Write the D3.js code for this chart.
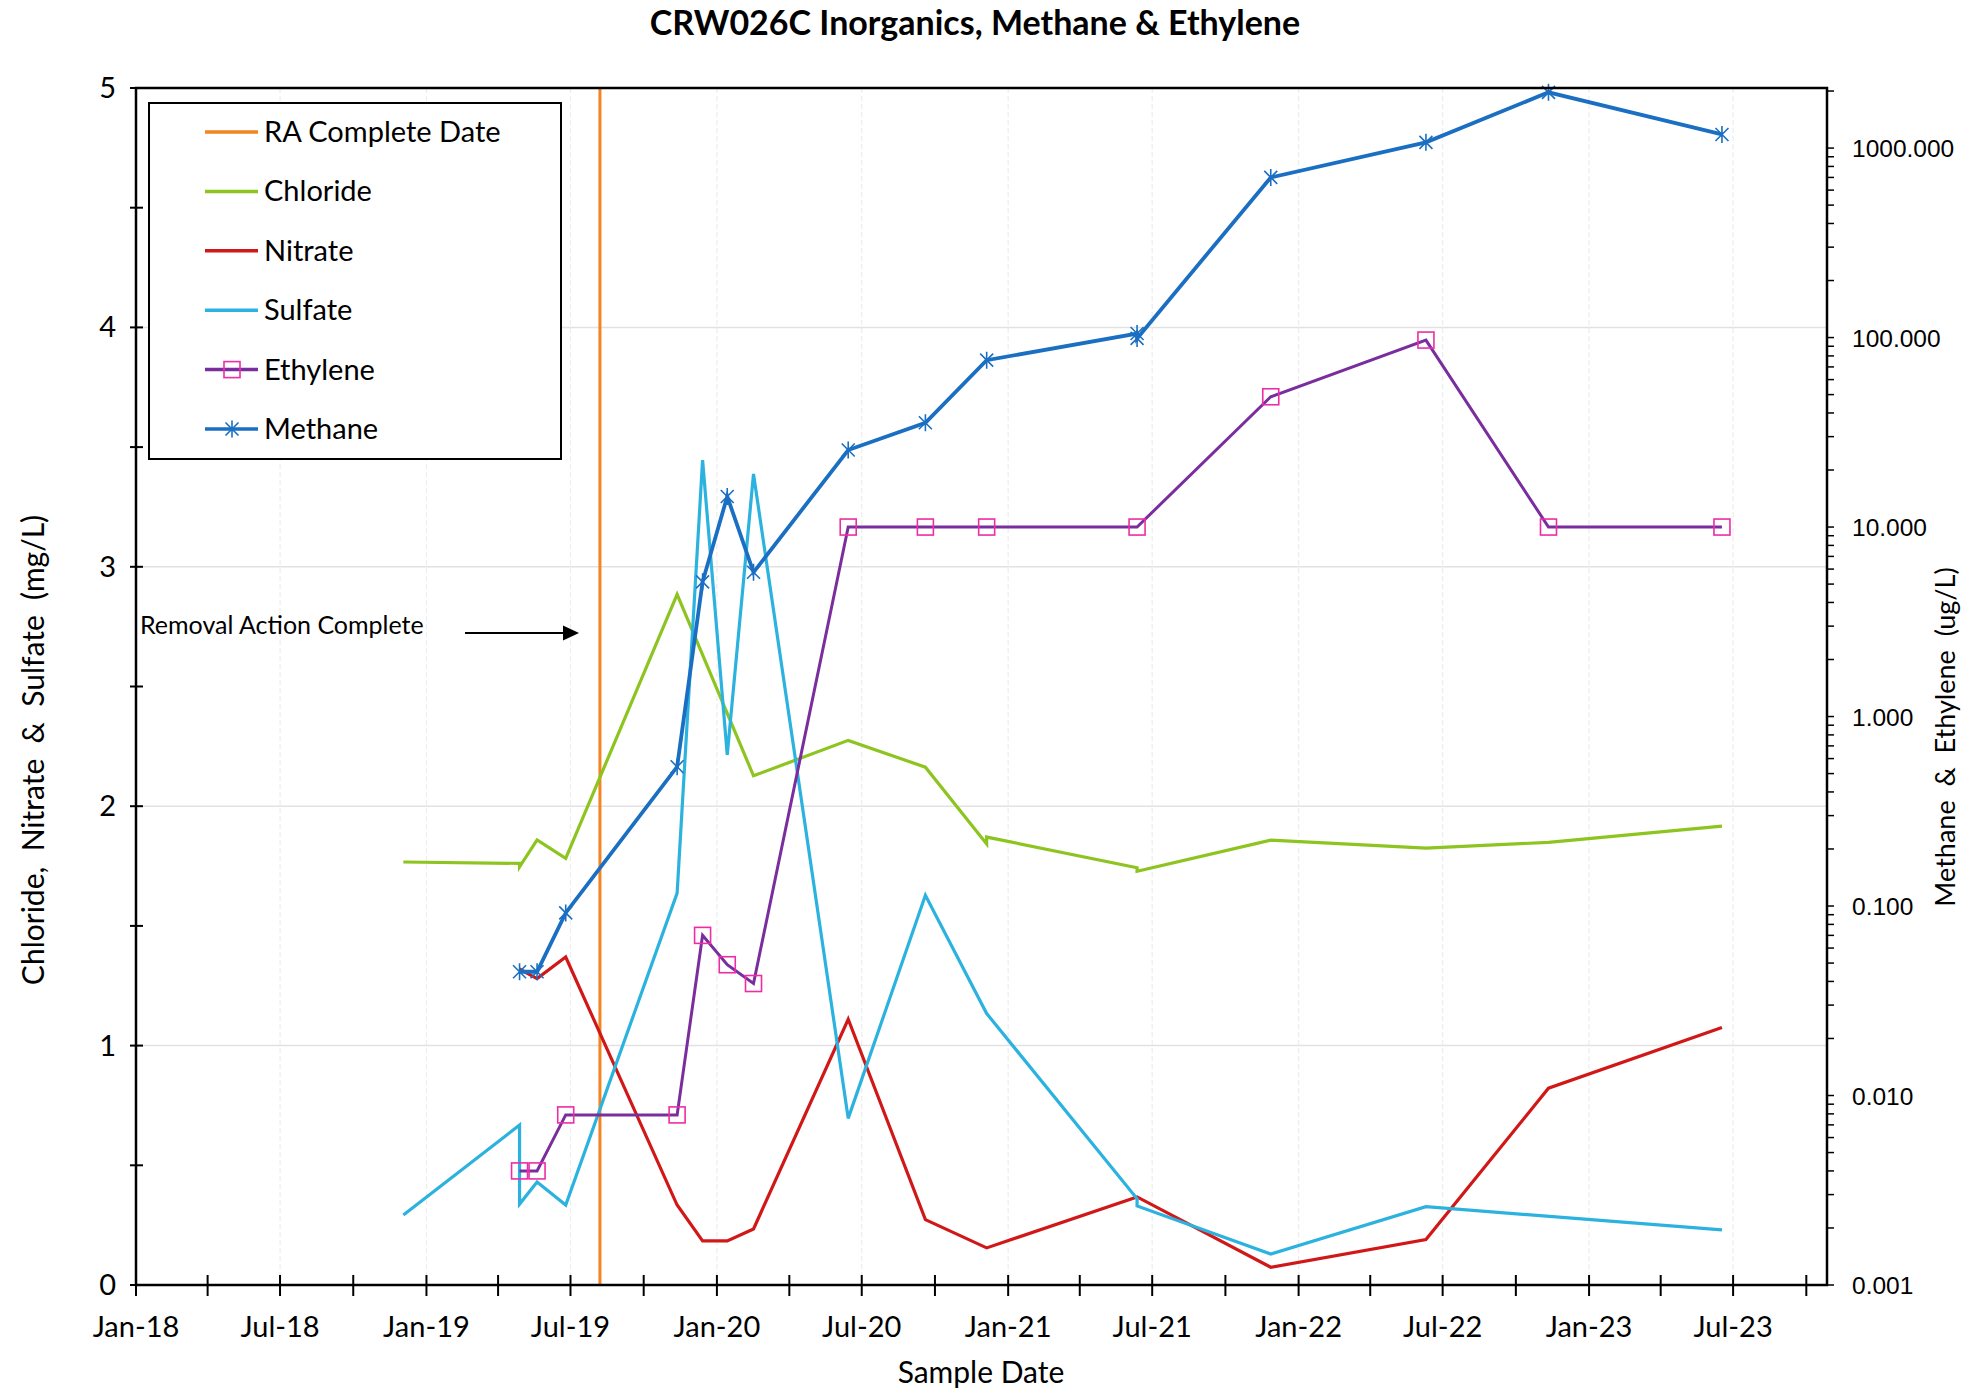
<!DOCTYPE html>
<html>
<head>
<meta charset="utf-8">
<script src="https://cdn.jsdelivr.net/npm/d3@7"></script>
<style>
  body { margin: 0; background: #fff; }
  svg { display: block; font-family: Lato, "Open Sans", sans-serif; }
</style>
</head>
<body>
<svg width="1967" height="1393"></svg>
<script>
// sample results: [date, value]
const chloride = [
  ["2018-12-03", 1.767], ["2019-04-28", 1.761], ["2019-04-28", 1.747], ["2019-05-20", 1.859],
  ["2019-06-25", 1.782], ["2019-11-12", 2.885], ["2020-02-16", 2.127], ["2020-06-14", 2.275],
  ["2020-09-19", 2.163], ["2020-12-05", 1.842], ["2020-12-05", 1.871], ["2021-06-12", 1.743],
  ["2021-06-12", 1.728], ["2021-11-27", 1.858], ["2022-06-10", 1.825], ["2022-11-11", 1.849],
  ["2023-06-17", 1.917]
];
const nitrate = [
  ["2019-04-28", 1.32], ["2019-05-20", 1.28], ["2019-06-25", 1.37], ["2019-11-12", 0.334],
  ["2019-12-14", 0.184], ["2020-01-14", 0.184], ["2020-02-16", 0.234], ["2020-06-14", 1.11],
  ["2020-09-19", 0.273], ["2020-12-05", 0.155], ["2021-06-12", 0.368], ["2021-11-27", 0.074],
  ["2022-06-10", 0.19], ["2022-11-11", 0.822], ["2023-06-17", 1.076]
];
const sulfate = [
  ["2018-12-03", 0.292], ["2019-04-28", 0.668], ["2019-04-28", 0.338], ["2019-05-20", 0.43],
  ["2019-06-25", 0.334], ["2019-11-12", 1.637], ["2019-12-14", 3.446], ["2020-01-14", 2.214],
  ["2020-02-16", 3.388], ["2020-06-14", 0.696], ["2020-09-19", 1.628], ["2020-12-05", 1.134],
  ["2021-06-12", 0.36], ["2021-06-12", 0.33], ["2021-11-27", 0.129], ["2022-06-10", 0.327],
  ["2023-06-17", 0.23]
];
const ethylene = [
  ["2019-04-28", 0.004], ["2019-05-20", 0.004], ["2019-06-25", 0.0079], ["2019-11-12", 0.0079],
  ["2019-12-14", 0.07], ["2020-01-14", 0.049], ["2020-02-16", 0.039], ["2020-06-14", 10],
  ["2020-09-19", 10], ["2020-12-05", 10], ["2021-06-12", 10], ["2021-11-27", 48.7],
  ["2022-06-10", 97], ["2022-11-11", 10], ["2023-06-17", 10]
];
const methane = [
  ["2019-04-28", 0.045], ["2019-05-20", 0.045], ["2019-06-25", 0.092], ["2019-11-12", 0.543],
  ["2019-12-14", 5.14], ["2020-01-14", 14.5], ["2020-02-16", 5.77], ["2020-06-14", 25.5],
  ["2020-09-19", 35.5], ["2020-12-05", 76], ["2021-06-12", 105], ["2021-06-12", 99],
  ["2021-11-27", 700], ["2022-06-10", 1072], ["2022-11-11", 1968], ["2023-06-17", 1180]
];
const raCompleteDate = "2019-08-07";

const leftTicks = [0, 1, 2, 3, 4, 5];
const rightTicks = [0.001, 0.01, 0.1, 1, 10, 100, 1000];

const width = 1967, height = 1393;
const plot = { left: 136, right: 1827, top: 88, bottom: 1285 };
const svg = d3.select("svg");
const parse = d3.utcParse("%Y-%m-%d");

const colors = {
  ra: "#F28422", chloride: "#8DC420", nitrate: "#D11818", sulfate: "#2CB2DF",
  ethylene: "#7A2E9E", ethyleneMarker: "#EE2CA5", methane: "#1B6FC2"
};

const x = d3.scaleUtc()
  .domain([parse("2018-01-01"), parse("2023-10-27")])
  .range([plot.left, plot.right]);
const yLeft = d3.scaleLinear().domain([0, 5]).range([plot.bottom, plot.top]);
const yRight = d3.scaleLog().domain([0.001, 2075]).range([plot.bottom, plot.top]);

// gridlines
svg.append("g").selectAll("line")
  .data(x.ticks(d3.utcMonth.every(6)))
  .enter().append("line")
  .attr("x1", d => x(d)).attr("x2", d => x(d))
  .attr("y1", plot.top).attr("y2", plot.bottom)
  .attr("stroke", "#ededed").attr("stroke-width", 1.2).attr("stroke-dasharray", "5,3");
svg.append("g").selectAll("line")
  .data([1, 2, 3, 4])
  .enter().append("line")
  .attr("x1", plot.left).attr("x2", plot.right)
  .attr("y1", d => yLeft(d)).attr("y2", d => yLeft(d))
  .attr("stroke", "#e2e2e2").attr("stroke-width", 1.5);

// title
svg.append("text")
  .attr("x", 975).attr("y", 35)
  .attr("text-anchor", "middle")
  .style("font-size", "34px").style("font-weight", "bold")
  .text("CRW026C Inorganics, Methane & Ethylene");

// RA complete line
svg.append("line")
  .attr("x1", x(parse(raCompleteDate))).attr("x2", x(parse(raCompleteDate)))
  .attr("y1", plot.top).attr("y2", plot.bottom)
  .attr("stroke", colors.ra).attr("stroke-width", 3);

// series lines
const lineLeft = d3.line().x(d => x(parse(d[0]))).y(d => yLeft(d[1]));
const lineRight = d3.line().x(d => x(parse(d[0]))).y(d => yRight(d[1]));

[[chloride, colors.chloride], [nitrate, colors.nitrate], [sulfate, colors.sulfate]].forEach(([data, c]) => {
  svg.append("path")
    .datum(data)
    .attr("fill", "none")
    .attr("stroke", c)
    .attr("stroke-width", 3.2)
    .attr("d", lineLeft);
});

svg.append("path")
  .datum(ethylene)
  .attr("fill", "none").attr("stroke", colors.ethylene).attr("stroke-width", 3)
  .attr("d", lineRight);
svg.selectAll(".eth-marker")
  .data(ethylene)
  .enter().append("rect")
  .attr("class", "eth-marker")
  .attr("x", d => x(parse(d[0])) - 8).attr("y", d => yRight(d[1]) - 8)
  .attr("width", 16).attr("height", 16)
  .attr("fill", "none").attr("stroke", colors.ethyleneMarker).attr("stroke-width", 1.6);

const asterisk = "M-6.5,-6.5L6.5,6.5M-6.5,6.5L6.5,-6.5M0,-8.5L0,8.5";
svg.append("path")
  .datum(methane)
  .attr("fill", "none").attr("stroke", colors.methane).attr("stroke-width", 3.8)
  .attr("d", lineRight);
svg.selectAll(".meth-marker")
  .data(methane)
  .enter().append("path")
  .attr("class", "meth-marker")
  .attr("transform", d => `translate(${x(parse(d[0]))},${yRight(d[1])})`)
  .attr("d", asterisk)
  .attr("fill", "none").attr("stroke", colors.methane).attr("stroke-width", 1.6);

// plot frame
svg.append("rect")
  .attr("x", plot.left).attr("y", plot.top)
  .attr("width", plot.right - plot.left).attr("height", plot.bottom - plot.top)
  .attr("fill", "none").attr("stroke", "#000").attr("stroke-width", 2.5);

// bottom axis: crossing ticks every quarter, labels every half year
svg.append("g").selectAll("line")
  .data(x.ticks(d3.utcMonth.every(3)))
  .enter().append("line")
  .attr("x1", d => x(d)).attr("x2", d => x(d))
  .attr("y1", plot.bottom - 10).attr("y2", plot.bottom + 11)
  .attr("stroke", "#000").attr("stroke-width", 2);
svg.append("g").selectAll("text")
  .data(x.ticks(d3.utcMonth.every(6)))
  .enter().append("text")
  .attr("x", d => x(d)).attr("y", 1337)
  .attr("text-anchor", "middle")
  .style("font-size", "29px")
  .text(d3.utcFormat("%b-%y"));

// left axis
svg.append("g").selectAll("line")
  .data(d3.range(0, 5.01, 0.5))
  .enter().append("line")
  .attr("x1", plot.left - 6).attr("x2", plot.left + 7)
  .attr("y1", d => yLeft(d)).attr("y2", d => yLeft(d))
  .attr("stroke", "#000").attr("stroke-width", 2);
svg.append("g").selectAll("text")
  .data(leftTicks)
  .enter().append("text")
  .attr("x", 116).attr("y", d => yLeft(d) + 10)
  .attr("text-anchor", "end")
  .style("font-size", "29px")
  .text(d => d);

// right log axis
const rightMinor = [];
rightTicks.forEach(t => { for (let k = 1; k <= 9; k++) if (t * k <= 2075) rightMinor.push(t * k); });
svg.append("g").selectAll("line")
  .data(rightMinor)
  .enter().append("line")
  .attr("x1", plot.right).attr("x2", plot.right + 7)
  .attr("y1", d => yRight(d)).attr("y2", d => yRight(d))
  .attr("stroke", "#000").attr("stroke-width", 1.5);
svg.append("g").selectAll("text")
  .data(rightTicks)
  .enter().append("text")
  .attr("x", 1852).attr("y", d => yRight(d) + 9)
  .style("font-family", "'Liberation Sans', Arial, sans-serif")
  .style("font-size", "24.5px")
  .text(d3.format(".3f"));

// axis titles
svg.append("text")
  .attr("x", 981).attr("y", 1383)
  .attr("text-anchor", "middle")
  .style("font-size", "30px")
  .text("Sample Date");
svg.append("text")
  .attr("transform", "translate(44,750) rotate(-90)")
  .attr("text-anchor", "middle")
  .style("font-size", "30px").style("white-space", "pre")
  .text("Chloride,  Nitrate  &  Sulfate  (mg/L)");
svg.append("text")
  .attr("transform", "translate(1955,737) rotate(-90)")
  .attr("text-anchor", "middle")
  .style("font-size", "27px").style("white-space", "pre")
  .text("Methane  &  Ethylene  (ug/L)");

// annotation
svg.append("text")
  .attr("x", 140).attr("y", 634)
  .style("font-size", "25px")
  .text("Removal Action Complete");
svg.append("line")
  .attr("x1", 465).attr("x2", 565).attr("y1", 633).attr("y2", 633)
  .attr("stroke", "#000").attr("stroke-width", 2);
svg.append("path")
  .attr("d", "M563,625.5L579,633L563,640.5Z")
  .attr("fill", "#000");

// legend
const legendItems = [
  { name: "RA Complete Date", color: colors.ra },
  { name: "Chloride", color: colors.chloride },
  { name: "Nitrate", color: colors.nitrate },
  { name: "Sulfate", color: colors.sulfate },
  { name: "Ethylene", color: colors.ethylene, marker: "square" },
  { name: "Methane", color: colors.methane, marker: "star" }
];
svg.append("rect")
  .attr("x", 149).attr("y", 103).attr("width", 412).attr("height", 356)
  .attr("fill", "#fff").attr("stroke", "#000").attr("stroke-width", 2);
const legend = svg.selectAll(".legend")
  .data(legendItems)
  .enter().append("g")
  .attr("class", "legend")
  .attr("transform", (d, i) => `translate(205,${132 + i * 59.4})`);
legend.append("line")
  .attr("x1", 0).attr("x2", 53)
  .attr("stroke", d => d.color).attr("stroke-width", 3.5);
legend.filter(d => d.marker === "square").append("rect")
  .attr("x", 19).attr("y", -8).attr("width", 16).attr("height", 16)
  .attr("fill", "none").attr("stroke", colors.ethyleneMarker).attr("stroke-width", 1.6);
legend.filter(d => d.marker === "star").append("path")
  .attr("transform", "translate(27,0)")
  .attr("d", asterisk)
  .attr("fill", "none").attr("stroke", colors.methane).attr("stroke-width", 1.6);
legend.append("text")
  .attr("x", 59).attr("y", 10)
  .style("font-size", "29px")
  .text(d => d.name);
</script>
</body>
</html>
